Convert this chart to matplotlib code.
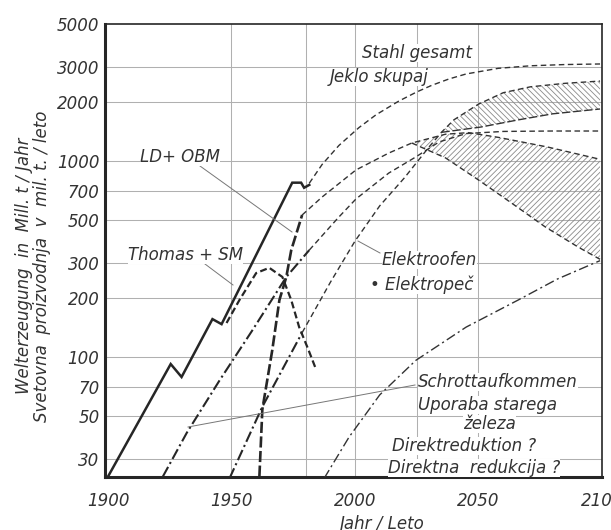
import matplotlib
matplotlib.use("Agg")
import matplotlib.pyplot as plt
import numpy as np

plt.rcParams['font.family'] = ['DejaVu Sans']
plt.rcParams['lines.scale_dashes'] = False
plt.rcParams['hatch.linewidth'] = 0.6
plt.rcParams['hatch.color'] = '#8a8a8a'

# ---------------- data ----------------
steel_hist_years = [1900, 1925.4, 1929.8, 1942.3, 1946.0, 1974.6, 1978.2, 1979.4, 1981.5]
steel_hist_vals  = [24.5, 92, 79, 156, 147, 775, 775, 730, 755]

steel_fc_years = [1981.5, 1986.7, 1993.5, 2001.6, 2008.5, 2017.7, 2025, 2031, 2038, 2045, 2058, 2071, 2085, 2099.2]
steel_fc_vals  = [770, 960, 1200, 1480, 1720, 2020, 2250, 2430, 2620, 2780, 2970, 3060, 3105, 3126]

ld_hist_years = [1961.3, 1962.5, 1966.5, 1969.4, 1972.2, 1974.2, 1978.6]
ld_hist_vals  = [24.5, 54, 108, 195, 256, 351, 530]

ld_fc_years = [1978.6, 1986.7, 2000.4, 2013.7, 2023, 2036.7, 2046, 2058, 2078, 2099.2]
ld_fc_vals  = [530, 655, 900, 1098, 1235, 1370, 1395, 1320, 1178, 1020]

ld_low_years = [2023, 2036.7, 2050, 2063.3, 2077, 2090.3, 2099.2]
ld_low_vals  = [1235, 1036, 800, 611, 461, 364, 315]

thomas_years = [1948, 1953.2, 1960, 1965.3, 1970.6, 1974.2, 1977.4, 1981, 1984.3]
thomas_vals  = [149, 195, 268, 285, 256, 195, 142, 110, 86]

scrap_hist_years = [1922.2, 1931.9, 1945.2, 1958.5, 1972.2, 1981.5]
scrap_hist_vals  = [24.5, 41, 76, 137, 256, 351]

scrap_fc_years = [1981.5, 1993, 2000.4, 2013.7, 2024.6, 2034, 2045, 2060, 2080, 2099.2]
scrap_fc_vals  = [351, 510, 640, 868, 1048, 1250, 1380, 1415, 1422, 1422]

elec_hist_years = [1949.2, 1962.5, 1978.6]
elec_hist_vals  = [24, 55.7, 133]

elec_fc_years = [1978.6, 1990, 2000, 2010, 2020, 2030, 2035, 2040, 2050, 2060, 2071, 2085, 2099.2]
elec_fc_vals  = [133, 240, 390, 590, 820, 1180, 1400, 1620, 1950, 2230, 2390, 2490, 2557]

elec_low_years = [2035, 2051, 2066, 2080, 2099.2]
elec_low_vals  = [1400, 1490, 1620, 1740, 1842]

dr_years = [1987.5, 1997.6, 2010, 2024.6, 2045, 2066, 2082, 2099.2]
dr_vals  = [24, 39, 64, 96, 142, 195, 250, 310]

y_ticks = [30, 50, 70, 100, 200, 300, 500, 700, 1000, 2000, 3000, 5000]
y_tick_labels = ['30', '50', '70', '100', '200', '300', '500', '700', '1000', '2000', '3000', '5000']
x_ticks = [1900, 1950, 2000, 2050, 2100]
x_tick_labels = ['1900', '1950', '2000', '2050', '2100']
y_grid = [30, 50, 70, 100, 200, 300, 500, 700, 1000, 2000, 3000]
x_grid = [1950, 1980, 2000, 2025, 2050]

# ---------------- figure ----------------
W, H = 611, 530
fig = plt.figure(figsize=(W / 100, H / 100), dpi=100)
ax = fig.add_axes([105 / W, 1 - 477 / H, 497 / W, 453 / H])
ax.set_yscale('log')
ax.set_xlim(1898.8, 2099.2)
ax.set_ylim(24.4, 5000)

def P(x, y):
    return (x / W, 1 - y / H)

ink = '#262626'
for v in y_grid:
    ax.axhline(v, color='#b0b0b0', lw=0.75, zorder=1)
for v in x_grid:
    ax.axvline(v, color='#b0b0b0', lw=0.75, zorder=1)

# hatched bands
ax.fill(list(ld_fc_years[4:]) + ld_low_years[::-1], list(ld_fc_vals[4:]) + ld_low_vals[::-1],
        facecolor='none', edgecolor='#8a8a8a', lw=0, hatch='//////', zorder=2)
ax.fill(list(elec_fc_years[6:]) + elec_low_years[::-1], list(elec_fc_vals[6:]) + elec_low_vals[::-1],
        facecolor='none', edgecolor='#8a8a8a', lw=0, hatch='\\\\\\\\\\\\', zorder=2)

# historic lines
ax.plot(steel_hist_years, steel_hist_vals, color=ink, lw=1.8, zorder=5, solid_joinstyle='miter')
ax.plot(ld_hist_years, ld_hist_vals, color=ink, lw=1.9, dashes=(8, 2.5), zorder=5)
ax.plot(thomas_years, thomas_vals, color=ink, lw=1.6, dashes=(5, 2.5), zorder=5)
ax.plot(scrap_hist_years, scrap_hist_vals, color=ink, lw=1.5, dashes=(8, 2.5, 1.5, 2.5), zorder=5)
ax.plot(elec_hist_years, elec_hist_vals, color=ink, lw=1.5, dashes=(8, 2.5, 1.5, 2.5), zorder=5)

# forecasts
fc = dict(color='#333333', lw=1.0, dashes=(4, 2.5), zorder=4)
ax.plot(steel_fc_years, steel_fc_vals, **fc)
ax.plot(ld_fc_years, ld_fc_vals, **fc)
ax.plot(ld_low_years, ld_low_vals, **fc)
ax.plot(scrap_fc_years, scrap_fc_vals, **fc)
ax.plot(elec_fc_years, elec_fc_vals, **fc)
ax.plot(elec_low_years, elec_low_vals, color='#333333', lw=1.0, dashes=(6, 2), zorder=4)
ax.plot(dr_years, dr_vals, color='#333333', lw=1.0, dashes=(7, 2.5, 1.5, 2.5), zorder=4)

# axes styling
for s in ['left', 'bottom']:
    ax.spines[s].set_linewidth(2.2)
for s in ['top', 'right']:
    ax.spines[s].set_linewidth(1.2)
for s in ax.spines.values():
    s.set_color(ink)
ax.set_yticks(y_ticks)
ax.set_yticklabels(y_tick_labels)
ax.yaxis.set_minor_locator(matplotlib.ticker.NullLocator())
ax.set_xticks(x_ticks)
ax.set_xticklabels(x_tick_labels)
ax.tick_params(length=0, labelsize=12, labelcolor='#333333')
ax.tick_params(axis='y', pad=4)
ax.tick_params(axis='x', pad=11)
for t in ax.get_xticklabels() + ax.get_yticklabels():
    t.set_fontstyle('italic')

# axis titles
tkw = dict(fontsize=12, style='italic', color='#333333')
fig.text(*P(24, 266), 'Welterzeugung  in  Mill. t / Jahr', rotation=90, ha='center', va='center', **tkw)
fig.text(*P(42, 266), 'Svetovna  proizvodnja  v  mil. t. / leto', rotation=90, ha='center', va='center', **tkw)
fig.text(*P(382, 524), 'Jahr / Leto', ha='center', va='center', **tkw)

# annotations
bb = dict(facecolor='white', edgecolor='none', pad=0.0)
def lab(x, y, s):
    fig.text(*P(x, y), s, ha='left', va='baseline', bbox=bb, zorder=10, **tkw)

lab(362, 58, 'Stahl gesamt')
lab(330, 82, 'Jeklo skupaj')
lab(140, 162, 'LD+ OBM')
lab(128, 260, 'Thomas + SM')
lab(382, 265, 'Elektroofen')
lab(370, 290, '• Elektropeč')
lab(418, 387, 'Schrottaufkommen')
lab(418, 410, 'Uporaba starega')
lab(463, 429, 'železa')
lab(392, 451, 'Direktreduktion ?')
lab(388, 473, 'Direktna  redukcija ?')

# leader lines
def leader(x0, y0, x1, y1):
    fig.add_artist(matplotlib.lines.Line2D([x0 / W, x1 / W], [1 - y0 / H, 1 - y1 / H],
                                           color='#777777', lw=0.7, zorder=3))
leader(200, 166, 292, 232)
leader(205, 264, 233, 285)
leader(380, 253, 358, 241)
leader(415, 385, 188, 427)

fig.savefig('out.png', dpi=100)
